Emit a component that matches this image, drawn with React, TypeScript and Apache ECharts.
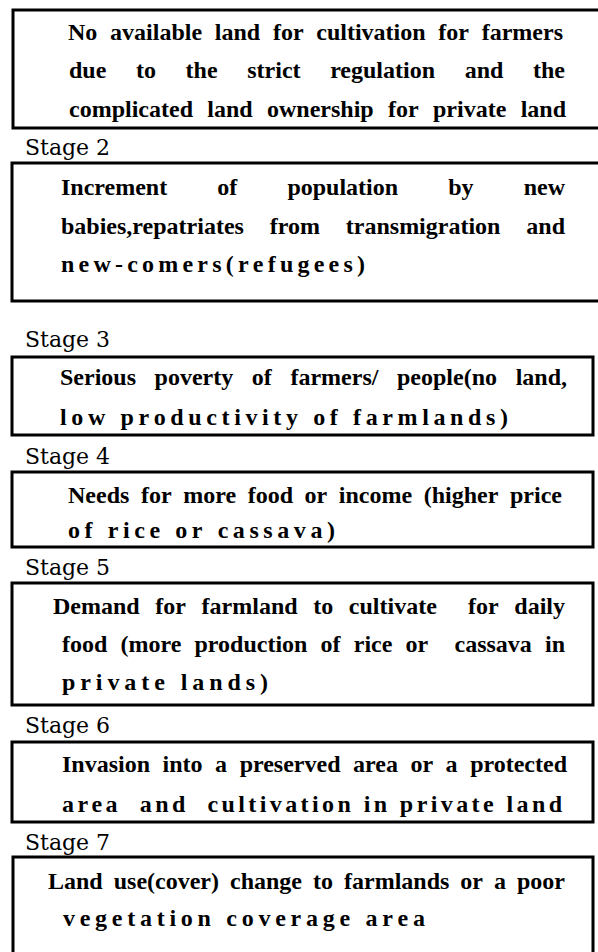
import React, { useEffect, useRef } from "react";
import * as echarts from "echarts";

// ---------- content ----------
const stageLabels = ["Stage 2", "Stage 3", "Stage 4", "Stage 5", "Stage 6", "Stage 7"];

const box1Lines = [
  "No available land for cultivation for farmers",
  "due to the strict regulation and the",
  "complicated land ownership for private land",
];
const box2Lines = [
  "Increment of population by new",
  "babies,repatriates from transmigration and",
  "new-comers(refugees)",
];
const box3Lines = [
  "Serious poverty of farmers/ people(no land,",
  "low productivity of farmlands)",
];
const box4Lines = [
  "Needs for more food or income (higher price",
  "of rice or cassava)",
];
const box5Lines = [
  "Demand for farmland to cultivate  for daily",
  "food (more production of rice or  cassava in",
  "private lands)",
];
const box6Lines = [
  "Invasion into a preserved area or a protected",
  "area  and  cultivation in private land",
];
const box7Lines = [
  "Land use(cover) change to farmlands or a poor",
  "vegetation coverage area",
];

const boxTexts = [box1Lines, box2Lines, box3Lines, box4Lines, box5Lines, box6Lines, box7Lines];

// ---------- layout (positions / styles) ----------
const W = 598;
const H = 952;

type BoxLayout = { left: number; top: number; bottom: number; right: number };
const boxLayout: BoxLayout[] = [
  { left: 13, top: 10, bottom: 128, right: 606 },
  { left: 12, top: 163, bottom: 301, right: 606 },
  { left: 12, top: 357, bottom: 435, right: 593 },
  { left: 12, top: 472, bottom: 547, right: 593 },
  { left: 12, top: 583, bottom: 705, right: 593 },
  { left: 12, top: 742, bottom: 822, right: 593 },
  { left: 13, top: 857, bottom: 964, right: 593 },
];

type LineLayout = { base: number; x0: number; x1: number; mode: "justify" | "spread" };
const lineLayout: LineLayout[][] = [
  [
    { base: 40, x0: 68, x1: 563, mode: "justify" },
    { base: 78, x0: 69, x1: 565, mode: "justify" },
    { base: 117, x0: 69, x1: 566, mode: "justify" },
  ],
  [
    { base: 195, x0: 61, x1: 565, mode: "justify" },
    { base: 234, x0: 61, x1: 565, mode: "justify" },
    { base: 272, x0: 61, x1: 365, mode: "spread" },
  ],
  [
    { base: 385, x0: 60, x1: 567, mode: "justify" },
    { base: 425, x0: 60, x1: 508, mode: "spread" },
  ],
  [
    { base: 503, x0: 68, x1: 562, mode: "justify" },
    { base: 538, x0: 68, x1: 335, mode: "spread" },
  ],
  [
    { base: 614, x0: 53, x1: 565, mode: "justify" },
    { base: 652, x0: 62, x1: 565, mode: "justify" },
    { base: 690, x0: 62, x1: 268, mode: "spread" },
  ],
  [
    { base: 772, x0: 62, x1: 567, mode: "justify" },
    { base: 812, x0: 62, x1: 562, mode: "spread" },
  ],
  [
    { base: 889, x0: 48, x1: 565, mode: "justify" },
    { base: 926, x0: 63, x1: 425, mode: "spread" },
  ],
];

const stageLayout = [
  { x: 25, base: 155 },
  { x: 25, base: 347 },
  { x: 25, base: 464 },
  { x: 25, base: 575 },
  { x: 25, base: 733 },
  { x: 25, base: 850 },
];

const BODY_SIZE = 24;
const BODY_FONT = `bold ${BODY_SIZE}px "Liberation Serif", "Times New Roman", serif`;
const STAGE_SIZE = 22;
const STAGE_FONT = `normal ${STAGE_SIZE}px "DejaVu Serif", "Liberation Serif", serif`;
const INK = "#000000";
const BORDER = 3;

export default function App() {
  const ref = useRef<HTMLDivElement | null>(null);

  useEffect(() => {
    document.body.style.margin = "0";
    const el = ref.current;
    if (!el) return;
    const chart = echarts.init(el, null, { renderer: "svg", width: W, height: H });

    const canvas = document.createElement("canvas");
    const ctx = canvas.getContext("2d") as CanvasRenderingContext2D;
    const measure = (t: string) => {
      ctx.font = BODY_FONT;
      return ctx.measureText(t).width;
    };

    const midOffset = 0.3375 * BODY_SIZE; // baseline -> central
    const elements: any[] = [];

    const bodyText = (x: number, base: number, text: string) => ({
      type: "text",
      x,
      y: base - midOffset,
      silent: true,
      style: {
        text,
        fill: INK,
        font: BODY_FONT,
        align: "left",
        verticalAlign: "middle",
        textAlign: "left",
        textVerticalAlign: "middle",
      },
    });

    boxLayout.forEach((b) => {
      elements.push({
        type: "rect",
        silent: true,
        shape: { x: b.left, y: b.top, width: b.right - b.left, height: b.bottom - b.top },
        style: { fill: "none", stroke: INK, lineWidth: BORDER },
      });
    });

    boxTexts.forEach((lines, bi) => {
      lines.forEach((line, li) => {
        const L = lineLayout[bi][li];
        if (L.mode === "justify") {
          const parts = line.split(/( +)/).filter((p) => p.length > 0);
          const words: string[] = [];
          const gaps: number[] = [];
          parts.forEach((p) => {
            if (p.trim().length === 0) gaps.push(p.length);
            else words.push(p);
          });
          const widths = words.map(measure);
          const totalW = widths.reduce((a, c) => a + c, 0);
          const totalGap = gaps.reduce((a, c) => a + c, 0);
          const unit = totalGap > 0 ? (L.x1 - L.x0 - totalW) / totalGap : 0;
          let x = L.x0;
          words.forEach((w, i) => {
            elements.push(bodyText(x, L.base, w));
            x += widths[i] + (i < gaps.length ? gaps[i] * unit : 0);
          });
        } else {
          const chars = Array.from(line);
          const widths = chars.map(measure);
          const totalW = widths.reduce((a, c) => a + c, 0);
          const ls = chars.length > 1 ? (L.x1 - L.x0 - totalW) / (chars.length - 1) : 0;
          let x = L.x0;
          chars.forEach((c, i) => {
            if (c.trim().length > 0) elements.push(bodyText(x, L.base, c));
            x += widths[i] + ls;
          });
        }
      });
    });

    stageLabels.forEach((s, i) => {
      const p = stageLayout[i];
      elements.push({
        type: "text",
        x: p.x,
        y: p.base - 0.346 * STAGE_SIZE,
        silent: true,
        style: {
          text: s,
          fill: INK,
          font: STAGE_FONT,
          align: "left",
          verticalAlign: "middle",
          textAlign: "left",
          textVerticalAlign: "middle",
        },
      });
    });

    chart.setOption({
      animation: false,
      backgroundColor: "#ffffff",
      graphic: { elements },
    });

    return () => {
      chart.dispose();
    };
  }, []);

  return (
    <div
      ref={ref}
      style={{ position: "absolute", left: 0, top: 0, width: W, height: H, background: "#fff" }}
    />
  );
}
